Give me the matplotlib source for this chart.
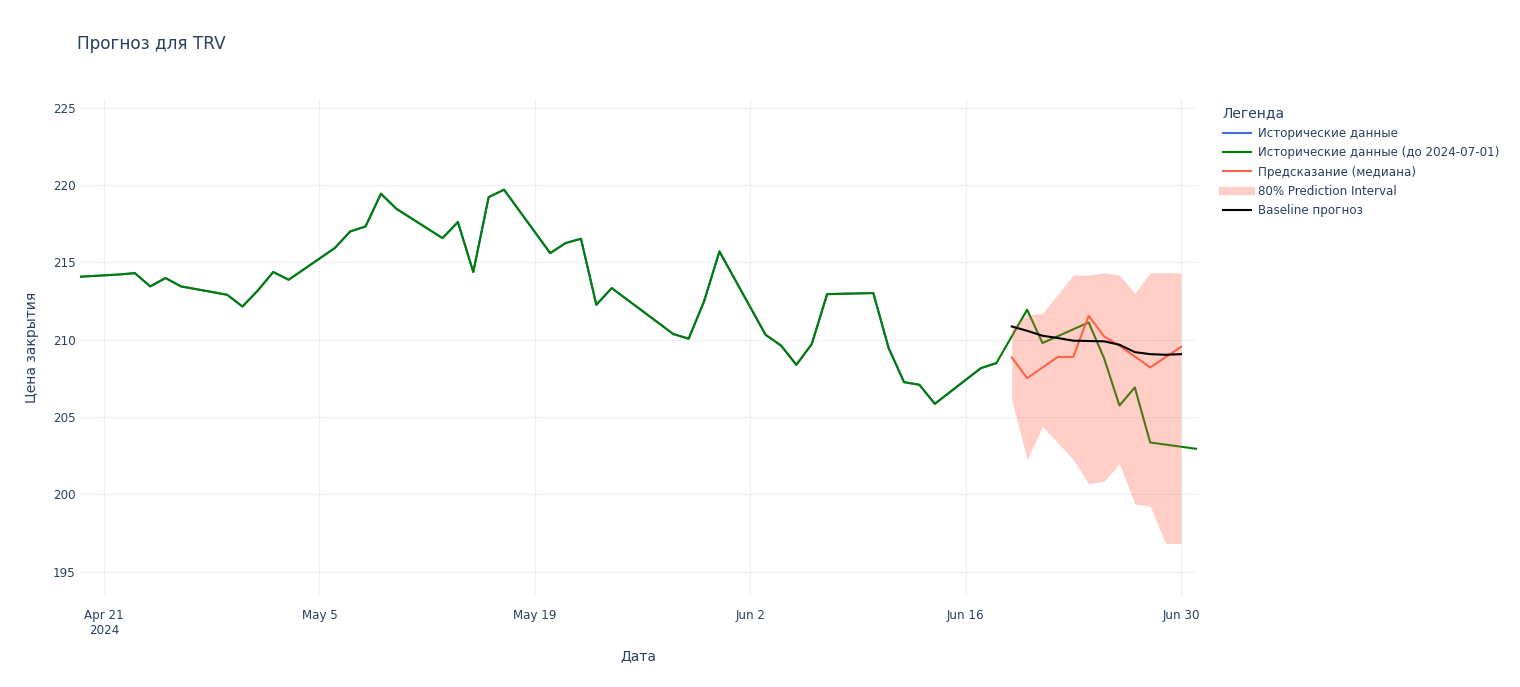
import matplotlib
matplotlib.use("Agg")
import matplotlib.pyplot as plt
import matplotlib.dates as mdates
import numpy as np
import pandas as pd
from matplotlib.lines import Line2D

# historical closes
hist_dates = ["2024-04-19", "2024-04-22", "2024-04-23", "2024-04-24", "2024-04-25", "2024-04-26",
              "2024-04-29", "2024-04-30", "2024-05-01", "2024-05-02", "2024-05-03",
              "2024-05-06", "2024-05-07", "2024-05-08", "2024-05-09", "2024-05-10",
              "2024-05-13", "2024-05-14", "2024-05-15", "2024-05-16", "2024-05-17",
              "2024-05-20", "2024-05-21", "2024-05-22", "2024-05-23", "2024-05-24",
              "2024-05-28", "2024-05-29", "2024-05-30", "2024-05-31",
              "2024-06-03", "2024-06-04", "2024-06-05", "2024-06-06", "2024-06-07",
              "2024-06-10", "2024-06-11", "2024-06-12", "2024-06-13", "2024-06-14",
              "2024-06-17", "2024-06-18", "2024-06-20", "2024-06-21",
              "2024-06-24", "2024-06-25", "2024-06-26", "2024-06-27", "2024-06-28",
              "2024-07-01"]
hist_close = [214.05, 214.22, 214.31, 213.45, 213.99, 213.45,
              212.91, 212.15, 213.19, 214.38, 213.88,
              215.93, 217.00, 217.33, 219.44, 218.47,
              216.57, 217.61, 214.38, 219.22, 219.70,
              215.60, 216.25, 216.53, 212.26, 213.34,
              210.37, 210.07, 212.48, 215.71,
              210.32, 209.63, 208.38, 209.72, 212.95,
              213.02, 209.46, 207.26, 207.09, 205.86,
              208.17, 208.49, 211.94, 209.79,
              211.12, 208.81, 205.75, 206.92, 203.36,
              202.95]

# forecast
fc_dates = ["2024-06-19", "2024-06-20", "2024-06-21", "2024-06-22", "2024-06-23", "2024-06-24",
            "2024-06-25", "2024-06-26", "2024-06-27", "2024-06-28", "2024-06-29", "2024-06-30"]
fc_median = [208.86, 207.52, 208.21, 208.89, 208.89, 211.55,
             210.22, 209.61, 208.92, 208.21, 208.88, 209.53]
fc_lower = [206.12, 202.25, 204.39, 203.32, 202.25, 200.70,
            200.85, 201.99, 199.39, 199.23, 196.83, 196.83]
fc_upper = [210.85, 211.60, 211.71, 212.95, 214.18, 214.18,
            214.33, 214.18, 213.00, 214.33, 214.33, 214.33]
baseline = [210.86, 210.58, 210.26, 210.11, 209.94, 209.92,
            209.90, 209.68, 209.20, 209.07, 209.03, 209.07]

tick_dates = ["2024-04-21", "2024-05-05", "2024-05-19", "2024-06-02", "2024-06-16", "2024-06-30"]
tick_labels = ["Apr 21\n2024", "May 5", "May 19", "Jun 2", "Jun 16", "Jun 30"]
y_ticks = [195, 200, 205, 210, 215, 220, 225]

hist_x = pd.to_datetime(hist_dates)
fc_x = pd.to_datetime(fc_dates)
cutoff = pd.Timestamp("2024-06-18")

text_col = "#2a3f5f"
grid_col = "#EBF0F8"
plt.rcParams["font.family"] = ["DejaVu Sans"]

fig = plt.figure(figsize=(15.2, 6.87), dpi=100)
ax = fig.add_axes([80 / 1520, 92 / 687, (1197 - 80) / 1520, (595 - 100) / 687])

mask = hist_x <= cutoff
ax.plot(hist_x[mask], np.array(hist_close)[mask], color="royalblue", lw=1.5, zorder=2)
ax.plot(hist_x, hist_close, color="green", lw=1.5, zorder=3)
ax.fill_between(fc_x, fc_lower, fc_upper, color="tomato", alpha=0.3, lw=0, zorder=4)
ax.plot(fc_x, fc_median, color="tomato", lw=1.5, zorder=5)
ax.plot(fc_x, baseline, color="black", lw=1.5, zorder=6)

ax.set_xlim(pd.Timestamp("2024-04-19 10:30"), pd.Timestamp("2024-07-01 01:00"))
ax.set_ylim(193.5, 225.5)
ax.set_xticks(pd.to_datetime(tick_dates))
ax.set_xticklabels(tick_labels)
ax.set_yticks(y_ticks)
ax.grid(True, color=grid_col, lw=0.8)
ax.set_axisbelow(True)
for s in ax.spines.values():
    s.set_visible(False)
ax.tick_params(length=0, labelsize=8.6, labelcolor=text_col)
ax.tick_params(axis="x", pad=10)
ax.tick_params(axis="y", pad=3)

ax.set_xlabel("Дата", fontsize=10, color=text_col, labelpad=9)
ax.set_ylabel("Цена закрытия", fontsize=10, color=text_col, labelpad=10)

fig.text(77 / 1520, 1 - 44 / 687, "Прогноз для TRV", fontsize=12.2, color=text_col, va="center")

handles = [
    Line2D([], [], color="royalblue", lw=1.5),
    Line2D([], [], color="green", lw=1.5),
    Line2D([], [], color="tomato", lw=1.5),
    Line2D([], [], color="tomato", alpha=0.3, lw=6),
    Line2D([], [], color="black", lw=1.5),
]
labels = ["Исторические данные", "Исторические данные (до 2024-07-01)",
          "Предсказание (медиана)", "80% Prediction Interval", "Baseline прогноз"]
leg = fig.legend(handles, labels, loc="upper left", bbox_to_anchor=(1219 / 1520, 1 - 103 / 687),
                 frameon=False, fontsize=8.6, title="Легенда", title_fontsize=10,
                 alignment="left", handlelength=2.4, handletextpad=0.6, labelspacing=0.53,
                 borderaxespad=0, borderpad=0.3)
for t in leg.get_texts():
    t.set_color(text_col)
leg.get_title().set_color(text_col)

fig.savefig("out.png", dpi=100)
